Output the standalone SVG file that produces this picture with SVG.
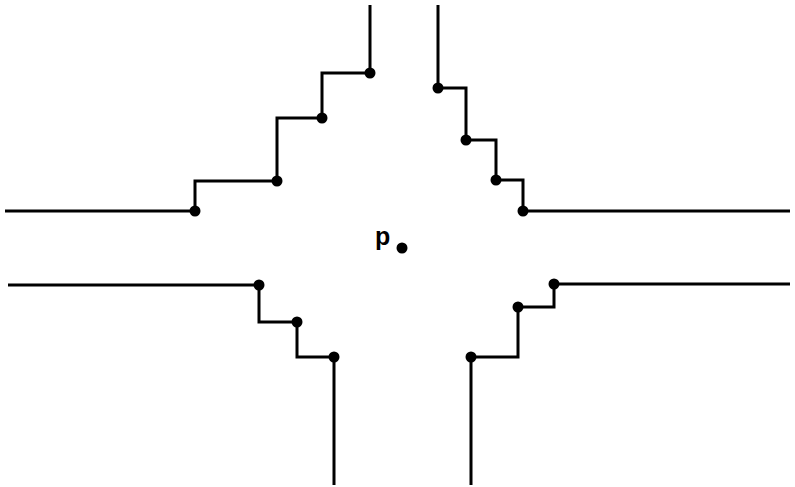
<svg xmlns="http://www.w3.org/2000/svg" width="795" height="487" viewBox="0 0 795 487">
<style>
.l{fill:none;stroke:#000;stroke-width:3;stroke-linejoin:miter}
.d{fill:#000}
.t{font-family:"Liberation Sans",Arial,sans-serif;font-size:25px;font-weight:bold;fill:#000}
</style>
<rect width="795" height="487" fill="#fff"/>
<g id="connectors">
<polyline class="l" points="370,5 370,73 322,73 322,118 277,118 277,181 195,181 195,211 5,211"/>
<polyline class="l" points="438,5 438,88 466,88 466,140 496,140 496,180 523,180 523,211 790,211"/>
<polyline class="l" points="8,285 259,285 259,322 297,322 297,357 334,357 334,485"/>
<polyline class="l" points="790,284 554,284 554,307 518,307 518,357 471,357 471,485"/>
</g>
<g id="dots">
<circle class="d" cx="370" cy="73" r="5.5"/>
<circle class="d" cx="322" cy="118" r="5.5"/>
<circle class="d" cx="277" cy="181" r="5.5"/>
<circle class="d" cx="195" cy="211" r="5.5"/>
<circle class="d" cx="438" cy="88" r="5.5"/>
<circle class="d" cx="466" cy="140" r="5.5"/>
<circle class="d" cx="496" cy="180" r="5.5"/>
<circle class="d" cx="523" cy="211" r="5.5"/>
<circle class="d" cx="259" cy="285" r="5.5"/>
<circle class="d" cx="297" cy="322" r="5.5"/>
<circle class="d" cx="334" cy="357" r="5.5"/>
<circle class="d" cx="554" cy="284" r="5.5"/>
<circle class="d" cx="518" cy="307" r="5.5"/>
<circle class="d" cx="471" cy="357" r="5.5"/>
</g>
<g id="p">
<text class="t" x="375" y="245">p</text>
<circle class="d" cx="402" cy="248" r="5.5"/>
</g>
</svg>
